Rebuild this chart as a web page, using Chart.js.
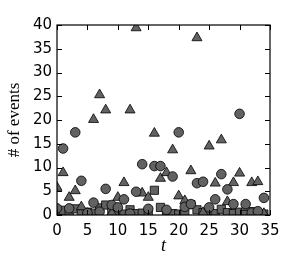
<!DOCTYPE html>
<html>
<head>
<meta charset="utf-8">
<script src="https://cdn.jsdelivr.net/npm/chart.js@4"></script>
<style>
  html, body { margin: 0; padding: 0; background: #fff; }
  #wrap { width: 300px; height: 260px; }
</style>
</head>
<body>
<div id="wrap"><canvas id="chart" width="300" height="260"></canvas></div>
<script>
const t = [0, 1, 2, 3, 4, 5, 6, 7, 8, 9, 10, 11, 12, 13, 14, 15, 16, 17,
    18, 19, 20, 21, 22, 23, 24, 25, 26, 27, 28, 29, 30, 31, 32, 33, 34];
const circles = [1.4, 14.0, 1.4, 17.4, 7.2, 0.4, 2.6, 0.7, 5.5, 2.1, 1.6, 3.3,
    0.3, 4.9, 10.7, 1.3, 10.3, 10.3, 1.1, 8.1, 17.4, 1.7, 2.3, 6.7, 7.0, 1.6,
    3.3, 8.6, 5.4, 2.3, 21.3, 2.3, 0.5, 0.8, 3.6];
const triangles = [5.8, 8.9, 3.7, 5.1, 1.7, 0.3, 20.1, 25.3, 22.1, 0.4, 3.7,
    6.8, 22.1, 39.4, 4.6, 3.7, 17.2, 7.7, 8.9, 13.7, 4.0, 3.0, 9.3, 37.3, 0.5,
    14.5, 6.7, 15.8, 2.8, 6.8, 8.8, 1.6, 6.8, 7.0, 0.3];
const squares = [0.8, 1.0, 0.5, 1.3, 0.3, 0.6, 0.4, 1.5, 2.1, 0.5, 0.3, 0.2,
    1.1, 0.3, 0.4, 0.3, 5.2, 1.6, 0.3, 0.3, 0.2, 0.3, 2.2, 1.1, 0.5, 0.6, 0.3,
    1.2, 0.5, 0.3, 0.6, 0.4, 0.7, 0.3, 0.2];
const xTicks = [0, 5, 10, 15, 20, 25, 30, 35];
const yTicks = [0, 5, 10, 15, 20, 25, 30, 35, 40];

function points(ys) {
    return ys.map((y, i) => ({ x: t[i], y: y }));
}

function series(ys, style, radius) {
    return {
        data: points(ys),
        pointStyle: style,
        pointRadius: radius,
        pointHoverRadius: radius,
        backgroundColor: "#626262",
        borderColor: "#000000",
        borderWidth: 0.8,
        clip: 0
    };
}

// frame with inward ticks on all four sides
const frame = {
    id: "frame",
    afterDraw(chart) {
        const ctx = chart.ctx;
        const a = chart.chartArea;
        const xs = chart.scales.x;
        const ys = chart.scales.y;
        const len = 5;
        ctx.save();
        ctx.strokeStyle = "#000";
        ctx.lineWidth = 1;
        ctx.beginPath();
        xTicks.forEach(v => {
            const px = Math.round(xs.getPixelForValue(v)) + 0.5;
            ctx.moveTo(px, a.bottom);
            ctx.lineTo(px, a.bottom - len);
            ctx.moveTo(px, a.top);
            ctx.lineTo(px, a.top + len);
        });
        yTicks.forEach(v => {
            const py = Math.round(ys.getPixelForValue(v)) + 0.5;
            ctx.moveTo(a.left, py);
            ctx.lineTo(a.left + len, py);
            ctx.moveTo(a.right, py);
            ctx.lineTo(a.right - len, py);
        });
        ctx.stroke();
        ctx.lineWidth = 1.2;
        ctx.strokeRect(a.left, a.top, a.right - a.left, a.bottom - a.top);
        ctx.restore();
    }
};

const tickFont = { family: "DejaVu Sans", size: 15 };

const chart = new Chart("chart", {
    type: "scatter",
    data: {
        datasets: [
            series(circles, "circle", 4.8),
            series(triangles, "triangle", 5.8),
            series(squares, "rect", 5.8)
        ]
    },
    options: {
        responsive: false,
        animation: false,
        events: [],
        layout: {
            padding: { top: 25, right: 30, left: 0, bottom: 0 }
        },
        scales: {
            x: {
                type: "linear",
                min: 0,
                max: 35,
                afterBuildTicks: s => { s.ticks = xTicks.map(v => ({ value: v })); },
                afterFit: s => { s.height = 45; },
                grid: { display: false, drawTicks: false },
                border: { display: false },
                ticks: { font: tickFont, color: "#000", padding: 7, maxRotation: 0 },
                title: {
                    display: true,
                    text: "t",
                    color: "#000",
                    font: { family: "Liberation Serif", size: 18, style: "italic" },
                    padding: { top: 0, bottom: 3 }
                }
            },
            y: {
                type: "linear",
                min: 0,
                max: 40,
                afterBuildTicks: s => { s.ticks = yTicks.map(v => ({ value: v })); },
                afterFit: s => { s.width = 57; },
                grid: { display: false, drawTicks: false },
                border: { display: false },
                ticks: { font: tickFont, color: "#000", padding: 5 },
                title: {
                    display: true,
                    text: "# of events",
                    color: "#000",
                    font: { family: "Liberation Serif", size: 17 },
                    padding: { top: 4, bottom: 0 }
                }
            }
        },
        plugins: {
            legend: { display: false },
            tooltip: { enabled: false }
        }
    },
    plugins: [frame]
});
</script>
</body>
</html>
